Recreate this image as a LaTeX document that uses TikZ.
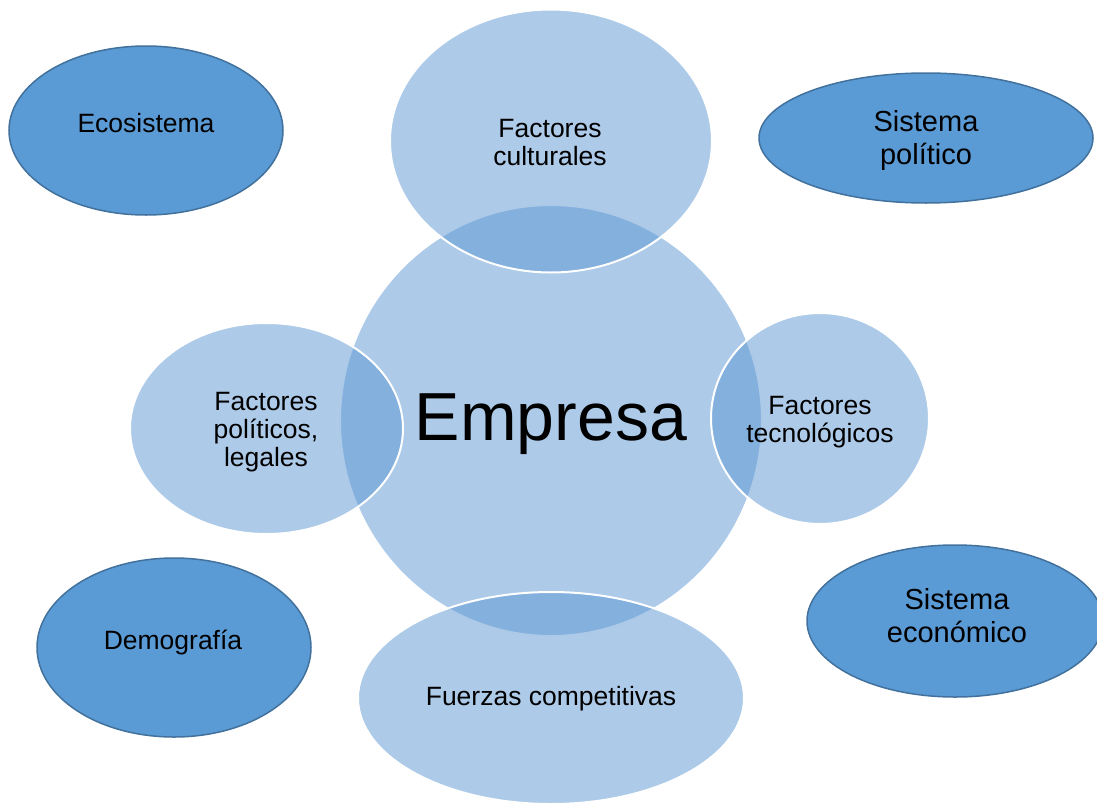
\documentclass[tikz,border=0pt]{standalone}
\usepackage{fontspec}
\setmainfont{Liberation Sans}
\usetikzlibrary{shapes.geometric}
\definecolor{softblue}{RGB}{91,150,210}
\definecolor{deepblue}{RGB}{91,155,213}
\definecolor{deepedge}{RGB}{65,113,156}
\begin{document}
\begin{tikzpicture}[x=1pt,y=-1pt,
  outerbubble/.style={ellipse, draw=deepedge, line width=1.5pt, fill=deepblue, inner sep=0pt},
  innerbubble/.style={ellipse, draw=white, line width=2pt, fill=softblue, fill opacity=0.5, inner sep=0pt},
  plaintext/.style={align=center, inner sep=0pt, font=\fontsize{26.5}{28}\selectfont},
  bigtext/.style={align=center, inner sep=0pt, font=\fontsize{29}{33}\selectfont}
]
\useasboundingbox (0,0) rectangle (1097,803);
\clip (0,0) rectangle (1097,803);

% surrounding systems
\node[outerbubble, minimum width=274pt, minimum height=169pt] (eco) at (146,130.5) {};
\node[plaintext] (ecot) at (146,123) {Ecosistema};
\node[outerbubble, minimum width=334pt, minimum height=130pt] (pol) at (926,138) {};
\node[bigtext] (polt) at (926,141) {Sistema\\político};
\node[outerbubble, minimum width=274pt, minimum height=179pt] (dem) at (174,647.5) {};
\node[plaintext] (demt) at (173,642) {Demografía};
\node[outerbubble, minimum width=296pt, minimum height=152pt] (eco2) at (955,621) {};
\node[bigtext] (eco2t) at (957,616) {Sistema\\económico};

% the company and its immediate factors
\node[innerbubble, minimum width=422pt, minimum height=431pt] (emp) at (551,420.5) {};
\node[innerbubble, minimum width=322pt, minimum height=263pt] (cul) at (551,141) {};
\node[innerbubble, minimum width=273pt, minimum height=211pt] (leg) at (266.5,428.5) {};
\node[innerbubble, minimum width=218pt, minimum height=211pt] (tec) at (820,418.5) {};
\node[innerbubble, minimum width=386pt, minimum height=212pt] (fue) at (551,698) {};

% labels
\node[plaintext, font=\fontsize{68}{70}\selectfont] (empt) at (551,424) {Empresa};
\node[plaintext] (cult) at (550,143) {Factores\\culturales};
\node[plaintext] (legt) at (266,432) {Factores\\políticos,\\legales};
\node[plaintext] (tect) at (820,422) {Factores\\tecnológicos};
\node[plaintext] (fuet) at (551,699) {Fuerzas competitivas};
\end{tikzpicture}
\end{document}
